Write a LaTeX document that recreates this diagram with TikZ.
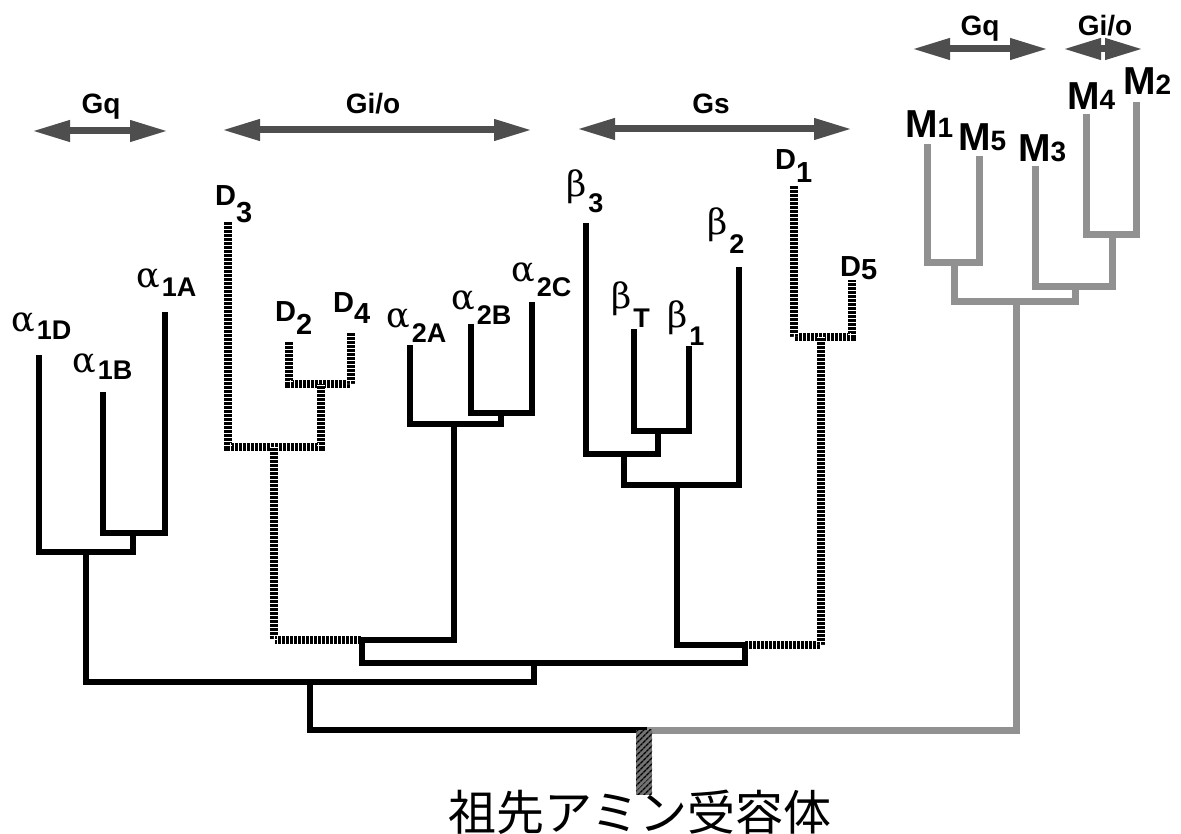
\documentclass[tikz,border=0pt]{standalone}
\usepackage{fontspec}
\setmainfont{Liberation Sans}
\newfontfamily\grkfont{DejaVu Serif}
\newfontfamily\cjkfont{Noto Sans CJK JP}
\usetikzlibrary{arrows.meta,patterns.meta}
\definecolor{mgray}{RGB}{145,145,145}
\definecolor{agray}{RGB}{78,78,78}
\definecolor{sgray}{RGB}{115,115,115}
\newcommand\glabel[3]{{\grkfont\fontsize{35}{35}\selectfont #1}\kern2pt\raisebox{-#3pt}{\bfseries\fontsize{27}{27}\selectfont #2}}
\newcommand\dlabel[2]{{\bfseries\fontsize{29}{29}\selectfont D\raisebox{-#2pt}{#1}}}
\newcommand\mlabel[1]{{\bfseries\fontsize{39}{39}\selectfont M}{\bfseries\fontsize{28}{28}\selectfont #1}}
\begin{document}
\begin{tikzpicture}[x=1pt,y=-1pt,
  blk/.style={line width=6.5pt, line cap=rect, line join=miter, draw=black},
  hatch/.style={line width=7.5pt, line cap=butt, line join=miter, draw=black,
    postaction={draw=white, line width=7.5pt, line cap=butt, dash pattern=on 1.2pt off 2.8pt}},
  gry/.style={line width=7pt, line cap=rect, line join=miter, draw=mgray},
  span/.style={line width=7pt, draw=agray, {Triangle[length=38pt,width=20pt]}-{Triangle[length=38pt,width=20pt]}},
  lab/.style={anchor=base west, inner sep=0pt},
  glab/.style={anchor=base, inner sep=0pt, font=\bfseries\fontsize{28}{28}\selectfont},
  stub/.style={rectangle, inner sep=0pt, minimum width=16pt, minimum height=65pt, fill=sgray,
    postaction={pattern={Lines[angle=45,distance=4pt,line width=1.6pt]}, pattern color=black}}]
\useasboundingbox (0,0) rectangle (1181,834);

% ---------- leaf tips and junctions ----------
\coordinate (a1D) at (39,358);  \coordinate (a1B) at (103,395); \coordinate (a1A) at (165,315);
\coordinate (J1) at (133,533);  \coordinate (J2) at (86,552);   \coordinate (J3) at (310,682);
\coordinate (d3) at (228,221);  \coordinate (d2) at (289,341);  \coordinate (d4) at (351,332);
\coordinate (JD1) at (321,384); \coordinate (JD2) at (274,447);
\coordinate (a2A) at (410,348); \coordinate (a2B) at (471,327); \coordinate (a2C) at (532,305);
\coordinate (JA1) at (501,413); \coordinate (JA2) at (454,424);
\coordinate (K2) at (362,640);  \coordinate (K1) at (534,663);  \coordinate (K3) at (745,645);
\coordinate (b3) at (586,226);  \coordinate (bT) at (634,332);  \coordinate (b1) at (689,349);
\coordinate (b2) at (739,270);
\coordinate (JB1) at (658,431); \coordinate (JB2) at (624,454); \coordinate (JB3) at (677,485);
\coordinate (d1) at (794,185);  \coordinate (d5) at (852,280);  \coordinate (JD3) at (821,337);
\coordinate (m1) at (927,148);  \coordinate (m5) at (979,160);  \coordinate (m3) at (1035,170);
\coordinate (m4) at (1086,118); \coordinate (m2) at (1136,106);
\coordinate (JM1) at (954,263); \coordinate (JM2) at (1112,235); \coordinate (JM3) at (1075,287);
\coordinate (JM4) at (1016,302);
\coordinate (R) at (644,730);

% ---------- group spans ----------
\coordinate (gq1L) at (32,131);   \coordinate (gq1R) at (168,131);
\coordinate (gio1L) at (222,130); \coordinate (gio1R) at (532,130);
\coordinate (gsL) at (577,129);   \coordinate (gsR) at (852,129);
\coordinate (gq2L) at (912,49);   \coordinate (gq2R) at (1048,49);
\coordinate (gio2L) at (1063,49); \coordinate (gio2R) at (1143,49);
\draw[span] (gq1L) -- (gq1R);
\draw[span] (gio1L) -- (gio1R);
\draw[span] (gsL) -- (gsR);
\draw[span] (gq2L) -- (gq2R);
\draw[span] (gio2L) -- (gio2R);
\node[glab] (tgq1) at (101,114) {Gq};
\node[glab] (tgio1) at (373,114) {Gi/o};
\node[glab] (tgs) at (711,114) {Gs};
\node[glab] (tgq2) at (980,36) {Gq};
\node[glab] (tgio2) at (1105,36) {Gi/o};

% ---------- gray (muscarinic) branch ----------
\draw[gry] (m1) |- (JM1) -| (m5);
\draw[gry] (m4) |- (JM2) -| (m2);
\draw[gry] (m3) |- (JM3) -| (JM2);
\draw[gry] (JM1) |- (JM4) -| (JM3);
\draw[gry] (R) -| (JM4);

% ---------- hatched (dopamine) branches ----------
\draw[hatch] (d2) |- (JD1) -| (d4);
\draw[hatch] (d3) |- (JD2) -| (JD1);
\draw[hatch] (JD2) |- (K2);
\draw[hatch] (d1) |- (JD3) -| (d5);
\draw[hatch] (JD3) |- (K3);

% ---------- black (adrenergic) branches ----------
\draw[blk] (a1B) |- (J1) -| (a1A);
\draw[blk] (a1D) |- (J2) -| (J1);
\draw[blk] (J2) |- (J3) -| (K1);
\draw[blk] (J3) |- (R);
\draw[blk] (a2B) |- (JA1) -| (a2C);
\draw[blk] (a2A) |- (JA2) -| (JA1);
\draw[blk] (JA2) |- (K2);
\draw[blk] (K2) |- (K1) -| (K3);
\draw[blk] (bT) |- (JB1) -| (b1);
\draw[blk] (b3) |- (JB2) -| (JB1);
\draw[blk] (JB2) |- (JB3) -| (b2);
\draw[blk] (JB3) |- (K3);

% ---------- root ----------
\node[stub] (stub) at (644,762) {};
\node[inner sep=0pt, font=\cjkfont\fontsize{48}{48}\selectfont] (rootlabel) at (640,812) {祖先アミン受容体};

% ---------- leaf labels ----------
\node[lab] (la1D) at (11,332) {\glabel{α}{1D}{8}};
\node[lab] (la1B) at (72,372) {\glabel{α}{1B}{8}};
\node[lab] (la1A) at (136,288) {\glabel{α}{1A}{9}};
\node[lab] (la2A) at (386,327) {\glabel{α}{2A}{16}};
\node[lab] (la2B) at (451,310) {\glabel{α}{2B}{15}};
\node[lab] (la2C) at (511,282) {\glabel{α}{2C}{15}};
\node[lab] (lb3) at (566,197) {\glabel{β}{3}{16}};
\node[lab] (lbT) at (611,309) {\glabel{β}{T}{19}};
\node[lab] (lb1) at (667,327) {\glabel{β}{1}{18}};
\node[lab] (lb2) at (707,235) {\glabel{β}{2}{19}};
\node[lab] (ld3) at (215,206) {\dlabel{3}{17}};
\node[lab] (ld2) at (275,322) {\dlabel{2}{13}};
\node[lab] (ld4) at (333,313) {\dlabel{4}{10}};
\node[lab] (ld1) at (775,170) {\dlabel{1}{13}};
\node[lab] (ld5) at (840,277) {\dlabel{5}{3}};
\node[lab] (lm1) at (905,138) {\mlabel{1}};
\node[lab] (lm5) at (958,151) {\mlabel{5}};
\node[lab] (lm3) at (1018,162) {\mlabel{3}};
\node[lab] (lm4) at (1067,110) {\mlabel{4}};
\node[lab] (lm2) at (1123,95) {\mlabel{2}};
\end{tikzpicture}
\end{document}
